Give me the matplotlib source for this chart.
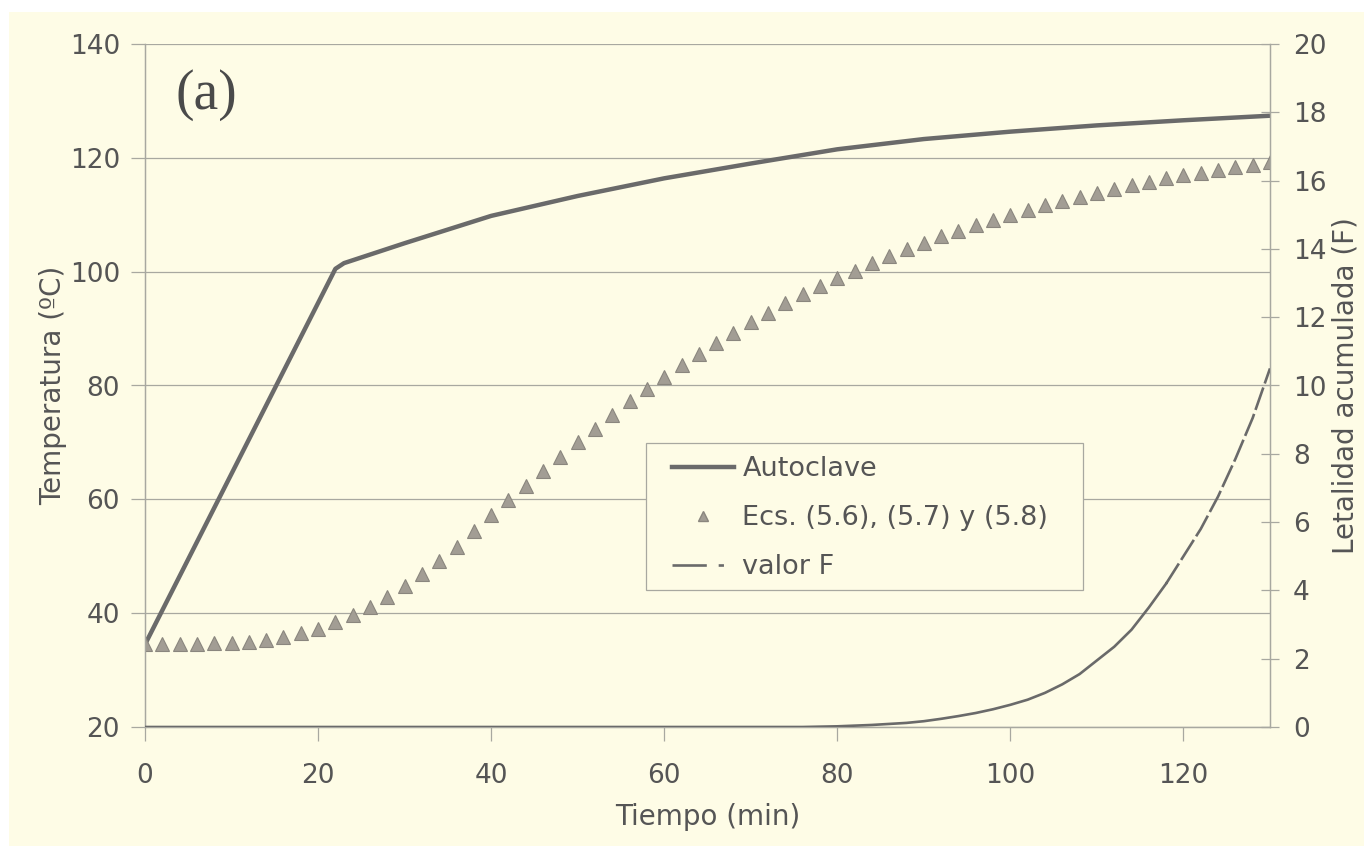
import matplotlib.pyplot as plt
from matplotlib.lines import Line2D
from matplotlib.patches import Rectangle

# Autoclave temperature (ºC)
t_auto = [0, 22, 23, 24, 30, 40, 50, 60, 70, 80, 90, 100, 110, 120, 130]
T_auto = [34.5, 100.5, 101.5, 102.0, 105.0, 109.8, 113.3, 116.4, 119.0,
          121.5, 123.3, 124.6, 125.7, 126.6, 127.4]

# Ecs. (5.6), (5.7) y (5.8): one point every 2 min
t_ecs = list(range(0, 131, 2))
T_ecs = [34.6, 34.6, 34.6, 34.6, 34.7, 34.8, 35.0, 35.3, 35.8, 36.5,
         37.3, 38.4, 39.7, 41.1, 42.8, 44.7, 46.9, 49.2, 51.7, 54.4,
         57.2, 59.9, 62.4, 65.0, 67.5, 70.1, 72.4, 74.9, 77.2, 79.3,
         81.5, 83.6, 85.5, 87.4, 89.3, 91.1, 92.8, 94.5, 96.0, 97.4,
         98.8, 100.2, 101.6, 102.8, 104.0, 105.1, 106.2, 107.2, 108.2, 109.1,
         110.0, 110.9, 111.7, 112.5, 113.2, 113.9, 114.5, 115.2, 115.8, 116.4,
         116.9, 117.4, 117.9, 118.4, 118.8, 119.3]

# valor F (letalidad acumulada)
t_F = [0, 76, 80, 84, 88, 90, 92, 94, 96, 98, 100, 102, 104, 106, 108,
       110, 112, 114, 116, 118, 120, 122, 124, 126, 128, 130]
F_val = [0, 0, 0.02, 0.06, 0.12, 0.17, 0.24, 0.32, 0.41, 0.52, 0.65, 0.8,
         1.0, 1.25, 1.55, 1.95, 2.35, 2.85, 3.5, 4.2, 5.0, 5.8, 6.75,
         7.85, 9.05, 10.5]
t_split = 118

bg = '#fefce6'
txt = '#555555'
gridc = '#a8a8a0'
linec = '#6a6a6a'
tri_face = '#a29d94'
tri_edge = '#8a867e'

plt.rcParams['font.family'] = 'DejaVu Sans'

fig = plt.figure(figsize=(13.64, 8.46), dpi=100, facecolor='white')
fig.add_artist(Rectangle((9 / 1364, -0.01), 1.0, 1.01 - 12 / 846, transform=fig.transFigure,
                         facecolor=bg, edgecolor='none', zorder=-10))

ax = fig.add_axes([145 / 1364, 1 - 727 / 846, 1125 / 1364, 683 / 846])
ax.set_facecolor('none')
ax2 = ax.twinx()
ax2.set_facecolor('none')

ax.plot(t_auto, T_auto, color=linec, lw=3.2, solid_capstyle='butt', zorder=3)
ax.plot(t_ecs, T_ecs, linestyle='none', marker='^', markersize=10.5,
        markerfacecolor=tri_face, markeredgecolor=tri_edge, markeredgewidth=0.8, zorder=4)

solid_t = [t for t in t_F if t <= t_split]
solid_F = F_val[:len(solid_t)]
dash_t = [t for t in t_F if t >= t_split]
dash_F = F_val[len(t_F) - len(dash_t):]
ax2.plot(solid_t, solid_F, color=linec, lw=1.9, zorder=3)
ax2.plot(dash_t, dash_F, color=linec, lw=1.9, dashes=(9, 1.6), zorder=3)

ax.set_xlim(0, 130)
ax.set_ylim(20, 140)
ax2.set_ylim(0, 20)
ax.set_xticks(range(0, 121, 20))
ax.set_yticks(range(20, 141, 20))
ax2.set_yticks(range(0, 21, 2))

ax.yaxis.grid(True, color=gridc, lw=0.9)
ax.set_axisbelow(True)

for a in (ax, ax2):
    for s in a.spines.values():
        s.set_color(gridc)
        s.set_linewidth(0.9)
    a.spines['top'].set_visible(False)

ax.tick_params(axis='both', colors=gridc, labelcolor=txt, labelsize=19, length=10, width=0.9)
ax.tick_params(axis='x', pad=16)
ax.tick_params(axis='y', pad=8)
ax2.tick_params(axis='y', direction='inout', colors=gridc, labelcolor=txt,
                labelsize=19, length=13, width=0.9, pad=10)

ax.set_xlabel('Tiempo (min)', fontsize=20, color=txt, labelpad=10)
ax.set_ylabel('Temperatura (ºC)', fontsize=20, color=txt, labelpad=2)
ax2.set_ylabel('Letalidad acumulada (F)', fontsize=20, color=txt, labelpad=4)

ax.text(0.027, 0.925, '(a)', transform=ax.transAxes, fontsize=40,
        family='Liberation Serif', color='#4a4a4a', va='center', ha='left')

# legend box drawn separately so the padding matches the original
ax2.add_patch(Rectangle((0.445, 0.2006), 0.389, 0.2152, transform=ax2.transAxes,
                        facecolor=bg, edgecolor=gridc, lw=0.9, zorder=5))
handles = [
    Line2D([], [], color=linec, lw=3.2),
    Line2D([], [], linestyle='none', marker='^', markersize=7.5,
           markerfacecolor=tri_face, markeredgecolor=tri_edge),
    Line2D([], [], color=linec, lw=1.9, dashes=(13, 4.5, 2, 10)),
]
labels = ['Autoclave', 'Ecs. (5.6), (5.7) y (5.8)', 'valor F']
leg = ax2.legend(handles, labels, loc='center left', bbox_to_anchor=(0.4685, 0.3055),
                 fontsize=19.5, frameon=False, handlelength=2.3, handletextpad=0.3,
                 labelspacing=0.85, borderpad=0, borderaxespad=0)
leg.set_zorder(6)
for t in leg.get_texts():
    t.set_color(txt)

fig.savefig('out.png', dpi=100, facecolor=fig.get_facecolor())
